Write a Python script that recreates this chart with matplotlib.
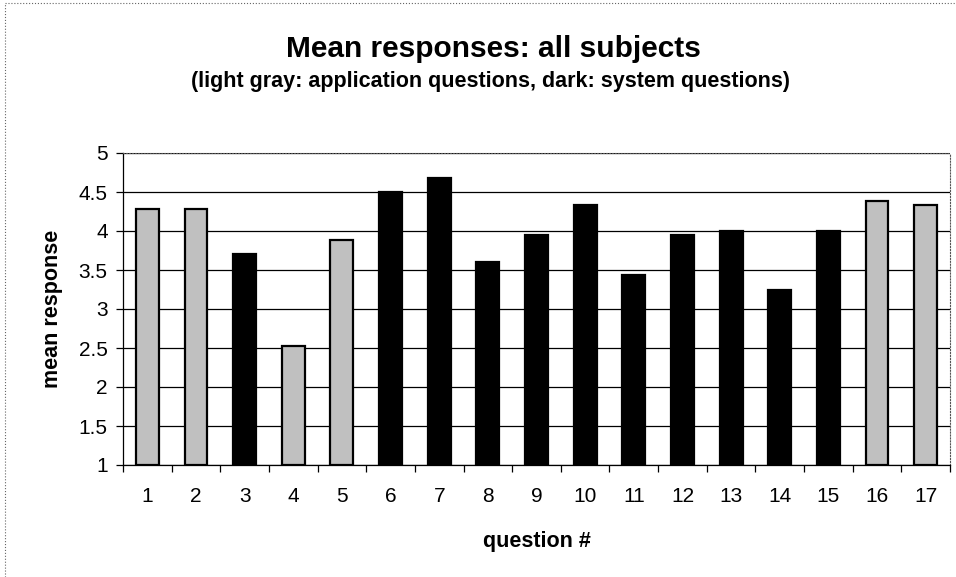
import matplotlib
matplotlib.use('Agg')
import matplotlib.pyplot as plt
import numpy as np
from matplotlib.lines import Line2D

plt.rcParams['font.family'] = ['Liberation Sans', 'DejaVu Sans']

questions = [str(i) for i in range(1, 18)]
mean_resp = [4.28, 4.28, 3.71, 2.53, 3.89, 4.50, 4.68, 3.60, 3.95,
             4.33, 3.43, 3.95, 4.00, 3.25, 4.00, 4.39, 4.33]
# 'app' = application question (light gray), 'sys' = system question (dark)
kind = ['app', 'app', 'sys', 'app', 'app', 'sys', 'sys', 'sys', 'sys',
        'sys', 'sys', 'sys', 'sys', 'sys', 'sys', 'app', 'app']

fig = plt.figure(figsize=(9.56, 5.77), dpi=100)
ax = fig.add_axes([123/956, 1 - 465/577, (950 - 123)/956, (465 - 153)/577])

x = np.arange(len(questions))
face = ['#c0c0c0' if k == 'app' else 'black' for k in kind]
bottom = 1
ax.bar(x, np.array(mean_resp) - bottom, bottom=bottom, width=0.47,
       color=face, edgecolor='black', linewidth=1.6, zorder=3)

ax.set_xlim(-0.5, len(questions) - 0.5)
ax.set_ylim(1, 5)
ax.set_yticks(np.arange(1, 5.01, 0.5))
ax.set_yticklabels(['1', '1.5', '2', '2.5', '3', '3.5', '4', '4.5', '5'])
ax.yaxis.grid(True, color='black', linewidth=0.9, zorder=0)

ax.set_xticks(x)
ax.set_xticklabels(questions)
ax.set_xticks(np.arange(-0.5, len(questions)), minor=True)
ax.tick_params(axis='x', which='major', length=0, pad=16, labelsize=15)
ax.tick_params(axis='x', which='minor', length=5, width=0.9, direction='out')
ax.tick_params(axis='y', length=5, width=0.9, direction='out', pad=6, labelsize=15)

ax.spines['top'].set_linestyle(':')
ax.spines['top'].set_color('#555555')
ax.spines['right'].set_linestyle(':')
ax.spines['right'].set_color('#555555')
ax.spines['left'].set_linewidth(0.9)
ax.spines['bottom'].set_linewidth(0.9)

ax.set_xlabel('question #', fontsize=15.5, fontweight='bold', labelpad=18)
ax.set_ylabel('mean response', fontsize=15.5, fontweight='bold', labelpad=11)

fig.text(493/956, 1 - 57/577, 'Mean responses: all subjects', ha='center', va='baseline',
         fontsize=21.5, fontweight='bold')
fig.text(491/956, 1 - 87/577, '(light gray: application questions, dark: system questions)',
         ha='center', va='baseline', fontsize=15.5, fontweight='bold')

# chart-area border fragments (left and top)
fig.add_artist(Line2D([5/956, 5/956], [0, 1 - 3/577], transform=fig.transFigure,
                      color='#666666', linewidth=0.8, linestyle=':'))
fig.add_artist(Line2D([5/956, 1], [1 - 3/577, 1 - 3/577], transform=fig.transFigure,
                      color='#666666', linewidth=0.8, linestyle=':'))

fig.savefig('out.png', dpi=100)
